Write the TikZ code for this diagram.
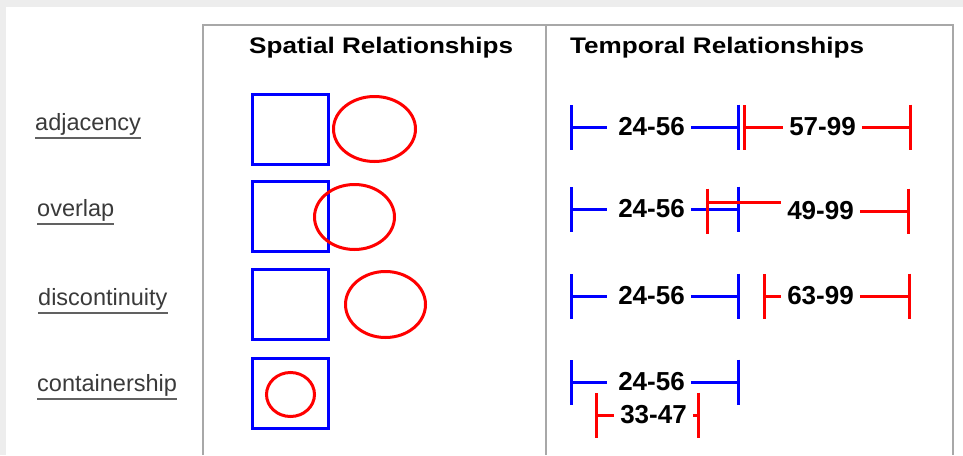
\documentclass[tikz,border=0pt]{standalone}
\usepackage{fontspec}
\setmainfont{Liberation Sans}
\newfontfamily\headfont[FakeStretch=1.16]{Liberation Sans}
\usetikzlibrary{arrows.meta}
\definecolor{rulegray}{HTML}{A8A8A8}
\definecolor{labelgray}{HTML}{3A3A3A}
\tikzset{
  rulebar/.style={draw=rulegray, line width=2pt},
  head/.style={font=\headfont\bfseries\fontsize{22.5}{26}\selectfont, inner sep=0pt, anchor=base west},
  rowlabel/.style={font=\fontsize{23.5}{28}\selectfont, text=labelgray, inner xsep=0pt, inner ysep=3pt, anchor=base west},
  uline/.style={draw=labelgray!80, line width=1.6pt},
  sqbox/.style={draw=blue, line width=3pt, minimum width=76pt, minimum height=70pt, inner sep=0pt},
  ring/.style={draw=red, line width=3pt},
  num/.style={font=\bfseries\fontsize{26}{26}\selectfont, inner xsep=6pt, inner ysep=0pt},
  bluespan/.style={draw=blue, line width=3pt},
  redspan/.style={draw=red, line width=3pt},
  endbar/.tip={Bar[width=45pt]}
}
\begin{document}
\begin{tikzpicture}[x=1pt, y=-1pt]
\useasboundingbox (0,0) rectangle (963,455);
% page and table frame
\fill[black!7] (0,0) rectangle (963,455);
\fill[white] (6,7) rectangle (963,455);
\draw[rulebar] (203,455) -- (203,25) -- (953,25) -- (953,455);
\draw[rulebar] (546,25) -- (546,455);

% headings
\node[head] (spatial) at (249,53) {Spatial Relationships};
\node[head] (temporal) at (570,53) {Temporal Relationships};

% row labels
\foreach \name/\txt/\x/\y in {adj/adjacency/35/130, ovl/overlap/37/216, dis/discontinuity/38/305, con/containership/37/391} {
    \node[rowlabel] (\name) at (\x,\y) {\txt};
    \draw[uline] (\name.south west) -- (\name.south east);
}

% spatial column
\foreach \name/\y in {sq1/129.5, sq2/216, sq3/304.5, sq4/393.5}
    \node[sqbox] (\name) at (290.5,\y) {};
\foreach \cx/\cy/\rx/\ry in {374.5/129/41/32.5, 354.5/217/40/32.5, 385.5/304.5/40/33, 290.5/394.5/24/22}
    \draw[ring] (\cx,\cy) ellipse [x radius=\rx pt, y radius=\ry pt];

% temporal column, blue spans
\foreach \r/\y in {1/127, 2/209, 3/296, 4/382} {
    \coordinate (bs\r) at (570,\y);
    \coordinate (be\r) at (739.5,\y);
    \node[num] (bt\r) at (651.5,\y) {24-56};
    \draw[bluespan, endbar-, shorten >=5pt] (bs\r) -- (bt\r.west);
    \draw[bluespan, -endbar] (bt\r.east) -- (be\r);
}

% red spans
\foreach \r/\sx/\tx/\ex/\y/\txt in {1/742.5/822.5/912/127/57-99, 3/763/820.5/911/296/63-99, 4/595/653.5/700/415/33-47} {
    \coordinate (rs\r) at (\sx,\y);
    \coordinate (re\r) at (\ex,\y);
    \node[num] (rt\r) at (\tx,\y) {\txt};
    \draw[redspan, endbar-] (rs\r) -- (rt\r.west);
    \draw[redspan, -endbar] (rt\r.east) -- (re\r);
}
\coordinate (rs2) at (707,211);
\coordinate (rl2) at (707,202);
\coordinate (re2) at (910,211);
\node[num] (rt2) at (820.5,211) {49-99};
\draw[redspan] (rs2) ++(0,-22.5) -- ++(0,45);
\draw[redspan] (rl2) -- (rl2 -| rt2.west);
\draw[redspan, -endbar] (rt2.east) -- (re2);
\end{tikzpicture}
\end{document}
